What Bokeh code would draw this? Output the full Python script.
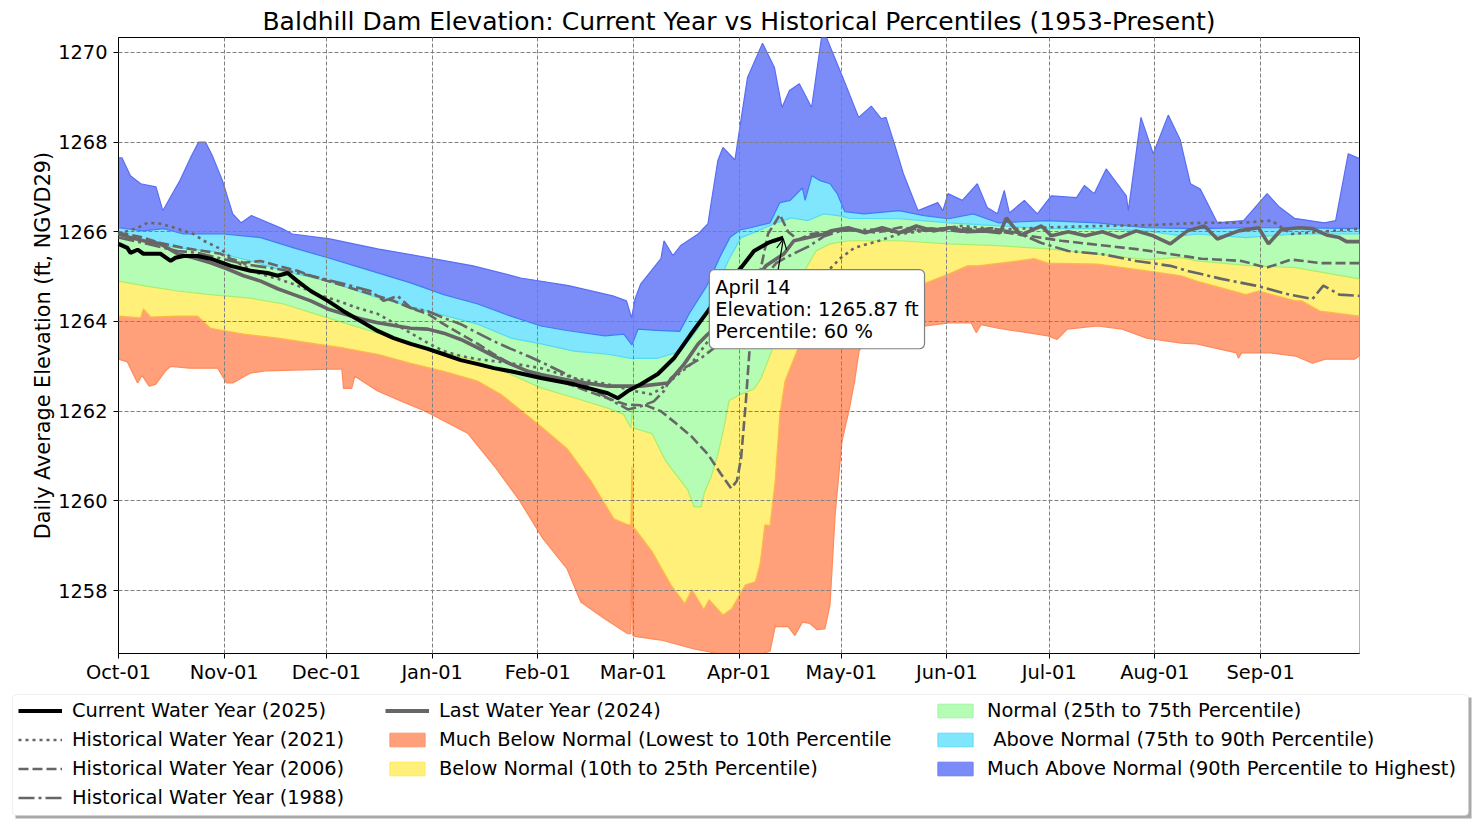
import datetime as dt
from bokeh.plotting import figure
from bokeh.models import (Range1d, FixedTicker, DatetimeTickFormatter, Legend, LegendItem,
                          Label, Arrow, OpenHead, BoxAnnotation)
from bokeh.layouts import column
from bokeh.embed import file_html
from bokeh.resources import INLINE

# ---------------------------------------------------------------- data
WY_START = dt.datetime(2024, 10, 1)
WY_LAST_DAY = 364

TITLE = "Baldhill Dam Elevation: Current Year vs Historical Percentiles (1953-Present)"
Y_LABEL = "Daily Average Elevation (ft, NGVD29)"
MONTH_TICKS = ["2024-10-01", "2024-11-01", "2024-12-01", "2025-01-01", "2025-02-01",
               "2025-03-01", "2025-04-01", "2025-05-01", "2025-06-01", "2025-07-01",
               "2025-08-01", "2025-09-01"]
Y_TICKS = [1258, 1260, 1262, 1264, 1266, 1268, 1270]
Y_LIMITS = [1256.6, 1270.33]

# percentile envelopes (day of water year, elevation ft)
MAX_DAY = [0, 1, 3.5, 6.5, 11, 13, 15, 18, 21, 23.5, 25.5, 27.5, 30.5, 33.5, 36, 39, 48, 51, 62, 76,
           91, 104, 118, 132, 145, 149, 150.5, 151.5, 153.2, 159.1, 160, 162.6, 165, 170, 172.9, 173.8,
           175.8, 177.3, 180.8, 183, 184.5, 188.9, 192.4, 194.6, 196.8, 199.7, 203.3, 206.2, 207, 212.8,
           217.1, 220.8, 223.7, 225.1, 227.3, 230.2, 234.5, 240.3, 241.8, 243.3, 247.5, 251.9, 254.8,
           257.8, 259.8, 261.3, 265.7, 269.5, 273.6, 281, 283.3, 286.2, 289.7, 295.6, 296.2, 299.9,
           303.5, 307.9, 311.4, 314.4, 317.3, 322.3, 330, 336.9, 340.5, 344.9, 353.7, 357, 360.7, 364]
MAX_FT = [1267.65, 1267.65, 1267.25, 1267.07, 1267.0, 1266.47, 1266.74, 1267.14, 1267.63, 1268.0,
          1268.0, 1267.7, 1267.14, 1266.4, 1266.2, 1266.36, 1266.07, 1265.95, 1265.84, 1265.62,
          1265.42, 1265.24, 1264.97, 1264.8, 1264.57, 1264.46, 1264.08, 1264.5, 1264.84, 1265.4,
          1265.8, 1265.47, 1265.7, 1265.95, 1266.18, 1266.63, 1267.59, 1267.88, 1267.6, 1268.7,
          1269.44, 1270.2, 1269.66, 1268.77, 1269.15, 1269.3, 1268.77, 1270.33, 1270.45, 1269.37,
          1268.55, 1268.8, 1268.52, 1268.55, 1268.03, 1267.3, 1266.47, 1266.65, 1266.47, 1266.85,
          1266.7, 1267.07, 1266.54, 1266.4, 1266.92, 1266.42, 1266.7, 1266.4, 1266.8, 1266.76,
          1267.03, 1266.85, 1267.4, 1266.8, 1266.47, 1268.55, 1267.74, 1268.6, 1268.05, 1267.07,
          1266.95, 1266.2, 1266.25, 1266.85, 1266.55, 1266.3, 1266.2, 1266.25, 1267.74, 1267.63]

P90_DAY = [0, 7.3, 13.2, 19.1, 30.8, 41.7, 51.4, 61.4, 71, 85.7, 95.4, 105.4, 115.1, 123.9, 131.5,
           142.7, 148.2, 150.6, 152.4, 157.9, 164.6, 167.6, 172.6, 176.4, 179.4, 182.3, 185.4, 191.1,
           194, 197, 199.2, 200.6, 201.4, 203.4, 205.8, 208.7, 210.8, 213, 218.7, 229, 236.3, 243.5,
           250.7, 258, 272.4, 287.1, 301.6, 316.2, 330.7, 345.2, 364]
P90_FT = [1266.09, 1266.02, 1266.07, 1265.95, 1265.95, 1265.87, 1265.64, 1265.42, 1265.2, 1264.86,
          1264.6, 1264.39, 1264.12, 1263.9, 1263.8, 1263.68, 1263.72, 1263.48, 1263.83, 1263.8,
          1263.78, 1264.2, 1264.8, 1265.44, 1265.88, 1266.04, 1266.09, 1266.2, 1266.65, 1266.7,
          1266.87, 1266.98, 1266.7, 1267.25, 1267.14, 1267.07, 1266.85, 1266.45, 1266.4, 1266.47,
          1266.36, 1266.29, 1266.4, 1266.2, 1266.25, 1266.2, 1266.09, 1266.07, 1266.09, 1266.09,
          1266.07]

P75_DAY = [0, 7.3, 17.3, 27, 38.7, 48.4, 61.4, 76, 90.7, 105.4, 115.1, 123.9, 133.6, 143.5, 150.3,
           158.2, 165, 170, 173.8, 178.8, 182.6, 187.6, 192.3, 197.3, 202.3, 207, 212, 214.4, 229,
           243.5, 258, 272.6, 287.1, 301.6, 311.7, 316.2, 330.7, 345.2, 364]
P75_FT = [1265.95, 1265.8, 1265.64, 1265.57, 1265.35, 1265.13, 1264.9, 1264.53, 1264.23, 1263.94,
          1263.63, 1263.5, 1263.34, 1263.27, 1263.18, 1263.18, 1263.34, 1263.85, 1264.46, 1265.35,
          1265.87, 1266.02, 1266.18, 1266.31, 1266.25, 1266.4, 1266.35, 1266.3, 1266.29, 1266.2,
          1266.13, 1266.07, 1266.07, 1266.02, 1265.91, 1265.95, 1265.87, 1265.95, 1265.95]

P25_DAY = [0, 7.3, 17.3, 27, 38.7, 48.4, 61.4, 76, 90.7, 105.4, 115.1, 123.9, 133.6, 143.5, 148.2,
           150.3, 150.7, 151.2, 156.5, 160.4, 164.1, 167, 168.8, 170.9, 171.8, 173.8, 175.9, 177.6,
           179.1, 182.6, 186.5, 188.5, 191.4, 194.3, 197.3, 200.2, 204.6, 208.7, 214.4, 229, 243.5,
           258, 272.6, 287.1, 301.6, 311.7, 316.2, 330.7, 345.2, 364]
P25_FT = [1264.9, 1264.8, 1264.68, 1264.6, 1264.52, 1264.39, 1264.08, 1263.74, 1263.41, 1263.12,
          1262.82, 1262.52, 1262.3, 1262.07, 1261.93, 1261.62, 1262.07, 1261.62, 1261.5, 1260.9,
          1260.53, 1260.24, 1259.87, 1259.87, 1260.17, 1260.53, 1261.06, 1261.64, 1262.24, 1262.38,
          1262.5, 1262.74, 1263.3, 1263.9, 1264.5, 1265.0, 1265.57, 1265.73, 1265.8, 1265.8,
          1265.73, 1265.69, 1265.62, 1265.5, 1265.38, 1265.43, 1265.35, 1265.25, 1265.2, 1264.95]

P10_DAY = [0, 6.5, 7.3, 9.4, 17.3, 23.2, 27, 36.7, 46.7, 56.4, 66, 76, 85.7, 95.4, 105.4, 112.1,
           117.7, 124.5, 131.5, 138.6, 145.3, 149.4, 150.3, 150.6, 150.9, 151.5, 156.5, 162, 166.1,
           168.2, 171.7, 173.2, 177.3, 179.9, 183.9, 186.8, 188.2, 189.6, 191.1, 192.6, 194, 195.5,
           199.3, 201.7, 206, 214.9, 223.7, 231, 236.9, 243.5, 249, 252.1, 263.9, 268.6, 272.6,
           287.1, 301.6, 311.7, 316.2, 330.7, 334.4, 345.2, 347, 352.5, 364]
P10_FT = [1264.12, 1264.08, 1264.28, 1264.1, 1264.12, 1264.12, 1263.85, 1263.72, 1263.63, 1263.52,
          1263.41, 1263.27, 1263.07, 1262.89, 1262.67, 1262.38, 1262.04, 1261.62, 1261.17, 1260.44,
          1259.6, 1259.47, 1259.47, 1260.77, 1259.4, 1259.38, 1258.87, 1258.13, 1257.71, 1258.02,
          1257.58, 1257.8, 1257.46, 1257.6, 1258.13, 1258.2, 1258.6, 1259.47, 1259.45, 1260.44,
          1261.93, 1262.67, 1263.4, 1263.6, 1264.12, 1264.46, 1264.64, 1264.75, 1264.86, 1265.06,
          1265.24, 1265.24, 1265.35, 1265.4, 1265.3, 1265.28, 1265.13, 1265.02, 1264.9, 1264.6,
          1264.68, 1264.46, 1264.46, 1264.23, 1264.12]

MIN_DAY = [0, 2.6, 5.6, 6.9, 9, 10.9, 13.8, 15.3, 20.8, 29.1, 31.7, 33.5, 38.7, 43, 62.2, 65.5, 66,
           68.4, 69.3, 76, 83.1, 90, 102.4, 110.7, 117.7, 124.5, 131.5, 135.6, 142.7, 149.4, 150.3,
           150.6, 150.9, 151.5, 159.1, 168.8, 182.6, 186.8, 191.1, 192.6, 196.4, 198.4, 200.6, 202.8,
           204.9, 207.2, 208.7, 210.2, 212.2, 214.4, 215.9, 217.2, 220.7, 229.5, 236.9, 243.5, 250.1,
           251.6, 253, 258, 272.6, 275.3, 278.3, 287.1, 294.4, 301.6, 311.7, 316.2, 327.9, 328.5,
           329.4, 337.9, 345.2, 350.2, 354, 362.5, 364]
MIN_FT = [1263.16, 1263.1, 1262.63, 1262.8, 1262.56, 1262.6, 1262.9, 1263.0, 1262.96, 1262.96,
          1262.63, 1262.63, 1262.85, 1262.9, 1262.94, 1262.94, 1262.51, 1262.51, 1262.78, 1262.45,
          1262.22, 1262.0, 1261.51, 1260.73, 1260.0, 1259.16, 1258.5, 1257.75, 1257.37, 1257.04,
          1257.04, 1258.7, 1257.0, 1256.98, 1256.9, 1256.7, 1256.5, 1256.55, 1256.65, 1257.2,
          1257.2, 1257.0, 1257.3, 1257.27, 1257.13, 1257.15, 1257.69, 1259.7, 1261.33, 1262.07,
          1262.67, 1263.34, 1263.8, 1263.85, 1263.9, 1263.97, 1263.97, 1263.75, 1263.93, 1263.85,
          1263.68, 1263.6, 1263.83, 1263.9, 1263.83, 1263.63, 1263.52, 1263.5, 1263.3, 1263.18,
          1263.3, 1263.3, 1263.23, 1263.07, 1263.16, 1263.16, 1263.23]

# yearly traces
CUR_DAY = [0, 2.6, 3.5, 5.6, 7.3, 12.3, 15.3, 16.7, 19.1, 23.2, 27, 32.9, 38.7, 43.7, 46.7, 49.6,
           52.5, 56.4, 61.4, 66, 71, 76, 80.7, 85.7, 90.7, 95.4, 100.4, 105.4, 110.1, 115.1, 123.9,
           133.6, 143.5, 146.5, 149.4, 153.2, 158.2, 162.9, 167.9, 172.9, 177.6, 182.6, 186.4, 190.5,
           192.3, 195]
CUR_FT = [1265.73, 1265.64, 1265.53, 1265.6, 1265.51, 1265.51, 1265.35, 1265.42, 1265.46, 1265.46,
          1265.4, 1265.24, 1265.13, 1265.08, 1265.02, 1265.08, 1264.9, 1264.68, 1264.46, 1264.23,
          1264.01, 1263.79, 1263.63, 1263.5, 1263.39, 1263.27, 1263.14, 1263.05, 1262.96, 1262.89,
          1262.74, 1262.6, 1262.4, 1262.29, 1262.45, 1262.6, 1262.83, 1263.18, 1263.72, 1264.23,
          1264.75, 1265.2, 1265.57, 1265.75, 1265.8, 1265.87]

Y2024_DAY = [0, 3.5, 7.3, 12.3, 17.3, 22, 27, 32, 36.7, 41.7, 46.7, 51.4, 56.4, 61.4, 66, 71, 76,
             85.7, 90.7, 95.4, 100.4, 105.4, 110.1, 115.1, 120.1, 123.9, 133.6, 143.5, 153.2, 161.2,
             162.9, 165.9, 170, 172.9, 176.7, 181.1, 185.5, 189.9, 195.2, 198.1, 202.3, 207, 209, 214,
             219, 224, 229, 234, 239, 243.9, 248.9, 254, 258.6, 260.4, 262.7, 264.8, 270.7, 273.6,
             278.6, 283.6, 288.6, 293.6, 298.5, 303.5, 308.5, 313.5, 318.5, 322.3, 328.5, 334.4,
             337.3, 341.1, 346.4, 350.2, 354.3, 358.1, 360.2, 364]
Y2024_FT = [1265.95, 1265.87, 1265.8, 1265.73, 1265.51, 1265.42, 1265.31, 1265.17, 1265.02, 1264.9,
            1264.73, 1264.6, 1264.46, 1264.28, 1264.17, 1264.06, 1263.97, 1263.85, 1263.83, 1263.74,
            1263.6, 1263.41, 1263.23, 1263.05, 1262.89, 1262.82, 1262.67, 1262.56, 1262.56, 1262.63,
            1262.78, 1263.05, 1263.5, 1263.72, 1263.97, 1264.35, 1264.8, 1265.24, 1265.51, 1265.8,
            1265.87, 1265.95, 1266.02, 1266.09, 1265.98, 1266.09, 1265.98, 1266.13, 1266.02, 1266.09,
            1266.0, 1266.02, 1265.98, 1266.31, 1266.09, 1265.93, 1266.13, 1265.91, 1266.0, 1265.91,
            1266.0, 1265.87, 1266.02, 1265.91, 1265.73, 1266.02, 1266.13, 1265.84, 1266.02, 1266.09,
            1265.73, 1266.05, 1266.09, 1266.07, 1265.93, 1265.87, 1265.78, 1265.78]

Y2021_DAY = [0, 5.6, 8.5, 12.3, 17.3, 22, 25, 29.9, 34.9, 40.8, 46.7, 52.5, 58.4, 64.3, 70.2, 76,
             80.7, 85.7, 90.7, 95.4, 100.4, 105.4, 115.1, 123.9, 133.6, 143.5, 151.2, 156.2, 159.1,
             162.9, 167.9, 172.9, 182.6, 194.3, 205.8, 208.1, 211.9, 215.8, 223.1, 229, 236.3, 247.2,
             258.9, 273.6, 288.3, 302.9, 317.6, 329.4, 338.2, 344, 352.8, 364]
Y2021_FT = [1265.95, 1266.09, 1266.2, 1266.18, 1266.07, 1265.95, 1265.8, 1265.62, 1265.31, 1265.08,
            1264.95, 1264.8, 1264.6, 1264.46, 1264.3, 1264.17, 1263.97, 1263.74, 1263.52, 1263.34,
            1263.23, 1263.16, 1263.07, 1262.96, 1262.74, 1262.6, 1262.45, 1262.38, 1262.5, 1262.74,
            1263.05, 1263.56, 1263.95, 1264.45, 1264.9, 1265.13, 1265.42, 1265.64, 1265.8, 1265.95,
            1266.02, 1266.13, 1266.05, 1266.1, 1266.13, 1266.15, 1266.2, 1266.2, 1266.25, 1265.95,
            1266.0, 1266.07]

Y2006_DAY = [0, 7.3, 12.3, 19.1, 25, 29.9, 32.9, 36.7, 41.7, 46.7, 52.5, 56.4, 61.4, 66, 71, 76,
             80.7, 85.7, 90.7, 95.4, 100.4, 105.4, 110.1, 115.1, 120.1, 123.9, 133.6, 141.5, 148.8,
             154.7, 159.1, 163.5, 167.9, 172.9, 176.7, 179.7, 181.4, 182.6, 184, 185.5, 187.9, 190.5,
             194, 196.4, 199.3, 203.1, 209, 214.9, 222.2, 229.5, 236.9, 244.2, 251.6, 258.9, 267.7,
             276.5, 288.3, 300, 308.8, 317.6, 329.4, 336.7, 344, 352.8, 364]
Y2006_FT = [1265.98, 1265.87, 1265.75, 1265.64, 1265.57, 1265.51, 1265.4, 1265.31, 1265.35, 1265.24,
            1265.13, 1265.02, 1264.9, 1264.8, 1264.68, 1264.57, 1264.46, 1264.3, 1264.17, 1263.94,
            1263.72, 1263.5, 1263.27, 1263.05, 1262.89, 1262.82, 1262.56, 1262.34, 1262.15, 1262.13,
            1262.0, 1261.73, 1261.45, 1261.04, 1260.6, 1260.28, 1260.45, 1260.95, 1262.2, 1263.8,
            1265.0, 1265.95, 1266.38, 1266.0, 1265.82, 1265.95, 1266.0, 1266.05, 1265.98, 1266.1,
            1266.02, 1266.1, 1266.05, 1266.0, 1265.9, 1265.8, 1265.7, 1265.6, 1265.5, 1265.4,
            1265.35, 1265.2, 1265.38, 1265.3, 1265.3]

Y1988_DAY = [0, 7.3, 17.3, 23.2, 27, 36.7, 46.7, 56.4, 66, 73.9, 77.8, 81.9, 85.7, 90.7, 95.4, 100.4,
             105.4, 110.1, 115.1, 120.1, 123.9, 133.6, 143.5, 149.4, 153.2, 157, 160, 162, 165.9,
             170.8, 174.7, 182.6, 188.5, 192.9, 196.4, 202.3, 207, 211.9, 220.7, 229.5, 238.3, 247.1,
             255.9, 263.6, 270.7, 278.6, 288.6, 298.5, 308.5, 313.5, 323.5, 333.5, 343.5, 350.2,
             353.4, 358.1, 364]
Y1988_FT = [1265.87, 1265.75, 1265.57, 1265.53, 1265.46, 1265.28, 1265.17, 1265.02, 1264.84, 1264.68,
            1264.46, 1264.57, 1264.3, 1264.23, 1264.08, 1263.94, 1263.74, 1263.56, 1263.39, 1263.23,
            1263.1, 1262.74, 1262.29, 1262.04, 1262.11, 1262.22, 1262.45, 1262.74, 1262.96, 1263.18,
            1263.41, 1264.25, 1264.9, 1265.3, 1265.45, 1265.67, 1265.9, 1266.02, 1266.05, 1265.98,
            1266.08, 1266.0, 1266.08, 1265.98, 1265.75, 1265.57, 1265.5, 1265.35, 1265.24, 1265.13,
            1264.95, 1264.8, 1264.6, 1264.5, 1264.8, 1264.6, 1264.57]

ANN_DATE_LABEL = "April 14"
ANN_PERCENTILE = 60

LEGEND_LABELS = {
    "cur": "Current Water Year (2025)",
    "y2021": "Historical Water Year (2021)",
    "y2006": "Historical Water Year (2006)",
    "y1988": "Historical Water Year (1988)",
    "y2024": "Last Water Year (2024)",
    "p10": "Much Below Normal (Lowest to 10th Percentile",
    "p25": "Below Normal (10th to 25th Percentile)",
    "p75": "Normal (25th to 75th Percentile)",
    "p90": " Above Normal (75th to 90th Percentile)",
    "max": "Much Above Normal (90th Percentile to Highest)",
}

# ---------------------------------------------------------------- style
FONT = "DejaVu Sans"
BASELINE = 1250.0
BAND_STYLE = {  # fill, edge
    "max": ("#7b8cf8", "#5a6ef4"),
    "p90": ("#7fe6fd", "#3f7cf6"),
    "p75": ("#b5fcb5", "#55daf0"),
    "p25": ("#fff07a", "#a9ee6c"),
    "p10": ("#ffa07a", "#ffb845"),
    "min": ("#ffffff", "#ff8a5c"),
}
LEGEND_EDGE = {"p10": "#ff9468", "p25": "#ffe95c", "p75": "#a3f5a3", "p90": "#62dcf8",
               "max": "#6a7cf6"}
GRAY = "#666666"
FIG_W = 1472


def to_dates(days):
    return [WY_START + dt.timedelta(days=float(d)) for d in days]


# ---------------------------------------------------------------- main figure
p = figure(width=FIG_W, height=690, x_axis_type="datetime",
           x_range=Range1d(WY_START, WY_START + dt.timedelta(days=WY_LAST_DAY)),
           y_range=Range1d(*Y_LIMITS),
           output_backend="svg", toolbar_location=None, frame_align=False,
           min_border_left=118, min_border_right=FIG_W - 1359, min_border_top=37,
           min_border_bottom=37)

p.title.text = TITLE
p.title.align = "center"
p.title.text_font = FONT
p.title.text_font_size = "25px"
p.title.text_font_style = "normal"
p.title.standoff = 4
p.title.text_color = "black"

bands = [("max", MAX_DAY, MAX_FT), ("p90", P90_DAY, P90_FT), ("p75", P75_DAY, P75_FT),
         ("p25", P25_DAY, P25_FT), ("p10", P10_DAY, P10_FT), ("min", MIN_DAY, MIN_FT)]
for key, days, vals in bands:
    p.varea(x=to_dates(days), y1=BASELINE, y2=vals, fill_color=BAND_STYLE[key][0], fill_alpha=1.0)
for key, days, vals in bands:
    p.line(x=to_dates(days), y=vals, line_color=BAND_STYLE[key][1], line_width=1.2)

# historical traces
p.line(x=to_dates(Y1988_DAY), y=Y1988_FT, line_color=GRAY, line_width=2.6,
       line_dash="16 4 3 4", level="annotation")
p.line(x=to_dates(Y2006_DAY), y=Y2006_FT, line_color=GRAY, line_width=2.6,
       line_dash="10 4", level="annotation")
p.line(x=to_dates(Y2021_DAY), y=Y2021_FT, line_color=GRAY, line_width=2.6,
       line_dash="3 4", level="annotation")
p.line(x=to_dates(Y2024_DAY), y=Y2024_FT, line_color=GRAY, line_width=3.6, level="annotation")
p.line(x=to_dates(CUR_DAY), y=CUR_FT, line_color="black", line_width=4, level="annotation")

# axes & grid
month_ms = [(dt.datetime.fromisoformat(m) - dt.datetime(1970, 1, 1)).total_seconds() * 1000
            for m in MONTH_TICKS]
p.xaxis.ticker = FixedTicker(ticks=month_ms)
fmt = "%b-%d"
p.xaxis.formatter = DatetimeTickFormatter(milliseconds=fmt, seconds=fmt, minsec=fmt, minutes=fmt,
                                          hourmin=fmt, hours=fmt, days=fmt, months=fmt, years=fmt)
p.yaxis.ticker = FixedTicker(ticks=Y_TICKS)
p.yaxis.axis_label = Y_LABEL
for ax in (p.xaxis, p.yaxis):
    ax.major_label_text_font = FONT
    ax.major_label_text_font_size = "19.4px"
    ax.major_label_text_color = "black"
    ax.axis_line_color = "black"
    ax.major_tick_line_color = "black"
    ax.major_tick_out = 5
    ax.major_tick_in = 0
    ax.minor_tick_line_color = None
p.xaxis.major_label_standoff = 2
p.yaxis.major_label_standoff = 6
p.yaxis.axis_label_text_font = FONT
p.yaxis.axis_label_text_font_size = "20.8px"
p.yaxis.axis_label_text_font_style = "normal"
p.yaxis.axis_label_text_color = "black"
p.yaxis.axis_label_standoff = 0
p.outline_line_color = "black"
p.outline_line_alpha = 1.0
p.grid.grid_line_color = "#808080"
p.grid.grid_line_dash = "4 2"
p.grid.grid_line_width = 1
p.grid.level = "guide"

# annotation of the latest value
ann_x = WY_START + dt.timedelta(days=CUR_DAY[-1])
ann_y = CUR_FT[-1]
p.add_layout(Label(x=ann_x, y=ann_y, x_offset=-74, y_offset=-32, anchor="top_left",
                   text=f"{ANN_DATE_LABEL}\nElevation: {ann_y:.2f} ft\nPercentile: {ANN_PERCENTILE} %",
                   text_font=FONT, text_font_size="19.4px", text_line_height=0.96,
                   text_color="black", background_fill_color="white", background_fill_alpha=1,
                   border_line_color="#7f7f7f", border_line_width=1.2, padding=6, border_radius=5,
                   level="overlay"))
p.add_layout(Arrow(end=OpenHead(size=10, line_width=1.2, line_color="black"),
                   x_start=ann_x - dt.timedelta(days=1.5), y_start=ann_y - 0.71,
                   x_end=ann_x, y_end=ann_y - 0.03, line_width=1.2, line_color="black",
                   level="overlay"))

# ---------------------------------------------------------------- legend panel
LH = 130
leg = figure(width=FIG_W, height=LH, x_range=Range1d(0, FIG_W), y_range=Range1d(0, LH),
             output_backend="svg", toolbar_location=None, min_border=0, frame_align=False,
             x_axis_location=None, y_axis_location=None, outline_line_color=None)
leg.grid.visible = False
leg.add_layout(BoxAnnotation(left=15, right=1471, bottom=2, top=123, fill_color="#8c8c8c",
                             fill_alpha=0.75, line_color=None, level="underlay"))
leg.add_layout(BoxAnnotation(left=12, right=1468, bottom=5, top=126, fill_color="white",
                             fill_alpha=1, line_color="#cccccc", line_width=1,
                             border_radius=4, level="underlay"))

# legend glyph carriers: one point each, placed outside the visible range
OFF = [-50, -40]
OFF_Y = [-50, -50]
r_cur = leg.line(x=OFF, y=OFF_Y, line_color="black", line_width=4)
r_2021 = leg.line(x=OFF, y=OFF_Y, line_color=GRAY, line_width=2.6, line_dash="3 4")
r_2006 = leg.line(x=OFF, y=OFF_Y, line_color=GRAY, line_width=2.6, line_dash="10 4")
r_1988 = leg.line(x=OFF, y=OFF_Y, line_color=GRAY, line_width=2.6, line_dash="16 4 3 4")
r_2024 = leg.line(x=OFF, y=OFF_Y, line_color=GRAY, line_width=4)
sw = {}
for key in ("p10", "p25", "p75", "p90", "max"):
    sw[key] = leg.quad(left=[-50], right=[-40], top=[-50], bottom=[-60],
                       fill_color=BAND_STYLE[key][0], line_color=LEGEND_EDGE[key], line_width=1)

common = dict(label_text_font=FONT, label_text_font_size="19.4px", label_text_color="black",
              glyph_width=44, glyph_height=17, label_standoff=10, label_height=22, spacing=6,
              padding=0, margin=0, border_line_color=None, background_fill_alpha=0)
cols = [
    ((18, 11.5), [("cur", r_cur), ("y2021", r_2021), ("y2006", r_2006), ("y1988", r_1988)]),
    ((385, 40.5), [("y2024", r_2024), ("p10", sw["p10"]), ("p25", sw["p25"])]),
    ((933, 40.5), [("p75", sw["p75"]), ("p90", sw["p90"]), ("max", sw["max"])]),
]
for loc, items in cols:
    leg.add_layout(Legend(items=[LegendItem(label=LEGEND_LABELS[k], renderers=[r]) for k, r in items],
                          location=loc, **common))

layout = column(p, leg)
open("out.html", "w").write(file_html(layout, INLINE))
